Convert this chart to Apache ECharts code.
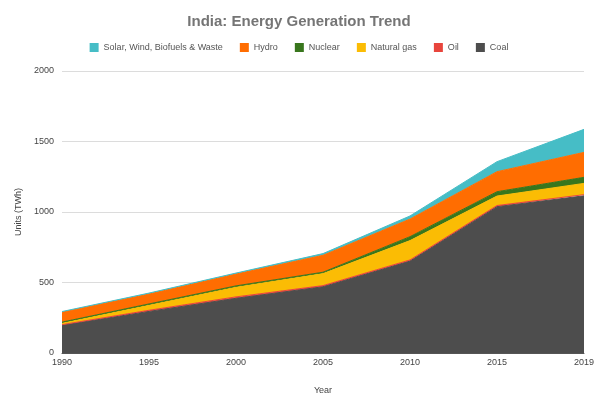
<!DOCTYPE html>
<html>
<head>
<meta charset="utf-8">
<script src="https://cdn.jsdelivr.net/npm/echarts@6/dist/echarts.min.js"></script>
<style>
  html, body { margin: 0; padding: 0; background: #fff; }
  #main { width: 598px; height: 394px; }
</style>
</head>
<body>
<div id="main"></div>
<script>
const years = ["1990", "1995", "2000", "2005", "2010", "2015", "2019"];
const coal = [196, 295, 388, 470, 652, 1038, 1115];
const oil = [5, 8, 10, 8, 8, 8, 8];
const gas = [10, 35, 68, 85, 137, 67, 80];
const nuclear = [8, 10, 10, 10, 28, 31, 43];
const hydro = [70, 70, 84, 120, 125, 142, 177];
const renewables = [5, 7, 7, 12, 22, 71, 163];

const legendOrder = ["Solar, Wind, Biofuels & Waste", "Hydro", "Nuclear", "Natural gas", "Oil", "Coal"];

const chart = echarts.init(document.getElementById("main"), null, { renderer: "canvas" });

// стек снизу вверх: уголь первым
const layers = [
  { name: "Coal", data: coal, color: "#4d4d4d" },
  { name: "Oil", data: oil, color: "#e8453c" },
  { name: "Natural gas", data: gas, color: "#fbbc04" },
  { name: "Nuclear", data: nuclear, color: "#38761d" },
  { name: "Hydro", data: hydro, color: "#ff6d01" },
  { name: "Solar, Wind, Biofuels & Waste", data: renewables, color: "#46bdc6" },
];

chart.setOption({
  animation: false,
  color: layers.map((l) => l.color),
  title: {
    text: "India: Energy Generation Trend",
    left: "center",
    top: 9,
    textStyle: { fontFamily: "Arial, Liberation Sans", fontSize: 15, fontWeight: "bold", color: "#757575" },
  },
  legend: {
    data: legendOrder,
    top: 38,
    left: "center",
    itemWidth: 9,
    itemHeight: 9,
    itemGap: 17,
    icon: "rect",
    textStyle: { fontFamily: "Arial, Liberation Sans", fontSize: 9, color: "#555" },
  },
  grid: { left: 62, right: 14, top: 71, bottom: 41, outerBoundsMode: "none" },
  xAxis: {
    type: "category",
    data: years,
    boundaryGap: false,
    name: "Year",
    nameLocation: "middle",
    nameGap: 33,
    nameTextStyle: { fontFamily: "Arial, Liberation Sans", fontSize: 9, color: "#444" },
    axisLine: { lineStyle: { color: "#555", width: 1 } },
    axisTick: { show: false },
    axisLabel: { fontFamily: "Arial, Liberation Sans", fontSize: 9, color: "#444", margin: 5 },
    splitLine: { show: false },
  },
  yAxis: {
    type: "value",
    min: 0,
    max: 2000,
    interval: 500,
    name: "Units (TWh)",
    nameLocation: "middle",
    nameGap: 36,
    nameTextStyle: { fontFamily: "Arial, Liberation Sans", fontSize: 9, color: "#444" },
    axisLine: { show: false },
    axisTick: { show: false },
    axisLabel: { fontFamily: "Arial, Liberation Sans", fontSize: 9, color: "#444", margin: 8, formatter: (v) => String(v) },
    splitLine: { lineStyle: { color: "#dcdcdc", width: 1 } },
  },
  series: layers.map((l) => ({
    name: l.name,
    type: "line",
    stack: "total",
    data: l.data,
    symbol: "none",
    lineStyle: { width: 1, color: l.color },
    areaStyle: { color: l.color, opacity: 1 },
    itemStyle: { color: l.color },
  })),
});
</script>
</body>
</html>
